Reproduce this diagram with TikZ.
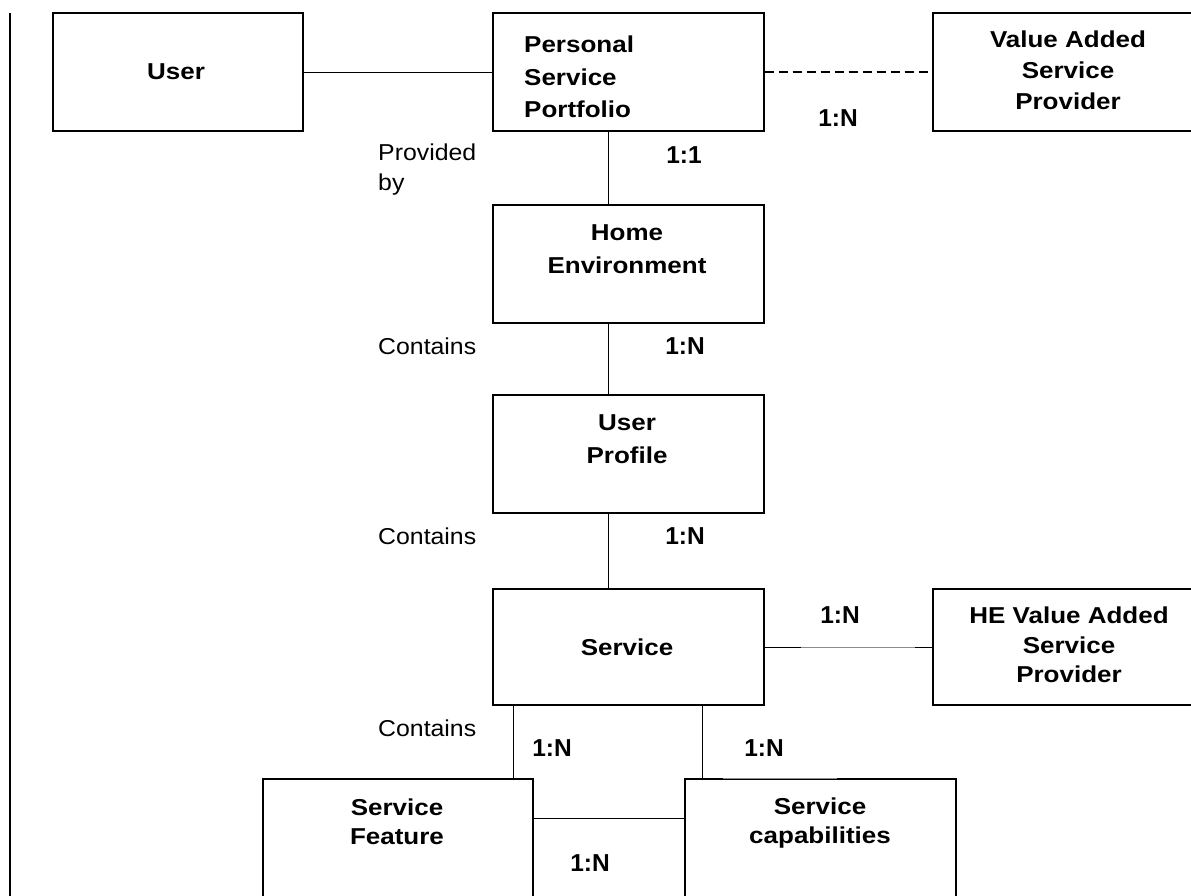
\documentclass[tikz,border=0pt]{standalone}
\usepackage{fontspec}
\setmainfont{Liberation Sans}
\newfontfamily\widesans[FakeStretch=1.13]{Liberation Sans}
\newfontfamily\notesans[FakeStretch=1.08]{Liberation Sans}
\begin{document}
\begin{tikzpicture}[x=1pt,y=-1pt,
  box/.style={draw, line width=1.4pt, rectangle, inner sep=0pt},
  title/.style={font=\widesans\fontsize{23}{31}\selectfont\bfseries, align=center, inner sep=0pt},
  note/.style={font=\notesans\fontsize{23}{30}\selectfont, align=left, inner sep=0pt},
  card/.style={font=\fontsize{24.5}{28}\selectfont\bfseries, inner sep=0pt},
  conn/.style={line width=1pt},
  faint/.style={line width=0.8pt, draw=black!45}]
\useasboundingbox (0,0) rectangle (1191,895);
\clip (0,0) rectangle (1191,895);
\fill[white] (0,0) rectangle (1191,895);

% margin rule on the left
\draw[line width=2pt] (10,13) -- (10,900);

% entity boxes
\node[box, minimum width=250pt, minimum height=118pt] (user)   at (178,72) {};
\node[box, minimum width=271pt, minimum height=118pt] (psp)    at (628.5,72) {};
\node[box, minimum width=267pt, minimum height=118pt] (vasp)   at (1066.5,72) {};
\node[box, minimum width=271pt, minimum height=118pt] (he)     at (628.5,264) {};
\node[box, minimum width=271pt, minimum height=118pt] (up)     at (628.5,454) {};
\node[box, minimum width=271pt, minimum height=116pt] (svc)    at (628.5,647) {};
\node[box, minimum width=267pt, minimum height=116pt] (hevasp) at (1066.5,647) {};
\node[box, minimum width=270pt, minimum height=141pt] (sf)     at (398,849.5) {};
\node[box, minimum width=271pt, minimum height=141pt] (sc)     at (820.5,849.5) {};

% box titles
\node[title] (tuser) at (176,72) {User};
\node[title, align=left, font=\widesans\fontsize{23}{32.5}\selectfont\bfseries, anchor=west] (tpsp) at (524,77) {Personal\\Service\\Portfolio};
\node[title] (tvasp) at (1068,70) {Value Added\\Service\\Provider};
\node[title, font=\widesans\fontsize{23}{33}\selectfont\bfseries] (the) at (627,249) {Home\\Environment};
\node[title, font=\widesans\fontsize{23}{33}\selectfont\bfseries] (tup) at (627,439) {User\\Profile};
\node[title] (tsvc) at (627,647) {Service};
\node[title, font=\widesans\fontsize{23}{29.5}\selectfont\bfseries] (thevasp) at (1069,645) {HE Value Added\\Service\\Provider};
\node[title, font=\widesans\fontsize{23}{29}\selectfont\bfseries] (tsf) at (397,822) {Service\\Feature};
\node[title, font=\widesans\fontsize{23}{29}\selectfont\bfseries] (tsc) at (820,823) {Service\\capabilities};

% connectors
\draw[conn] (user.east) -- (psp.west);
\draw[conn, dashed, dash pattern=on 9pt off 5pt, line width=1.4pt] (psp.east) -- (vasp.west);
\draw[conn] ([xshift=-20pt]psp.south) -- ([xshift=-20pt]he.north);
\draw[conn] ([xshift=-20pt]he.south) -- ([xshift=-20pt]up.north);
\draw[conn] ([xshift=-20pt]up.south) -- ([xshift=-20pt]svc.north);
\draw[faint] (svc.east) -- (hevasp.west);
\draw[conn] (svc.east) -- ++(36,0);
\draw[conn] (hevasp.west) -- ++(-17,0);
\draw[conn] ([xshift=-20pt]sf.north east) -- ([xshift=-20pt]sf.north east |- svc.south);
\draw[conn] ([xshift=18pt]sc.north west) -- ([xshift=18pt]sc.north west |- svc.south);
\draw[conn] ([yshift=-40pt]sf.north east) -- ([yshift=-40pt]sf.north east -| sc.west);
% lighter stretch along the top edge of the capabilities box
\draw[white, line width=1.6pt] ([xshift=39pt]sc.north west) -- ([xshift=153pt]sc.north west);
\draw[faint] ([xshift=39pt]sc.north west) -- ([xshift=153pt]sc.north west);

% relationship labels
\node[note, anchor=west] (lprov) at (378,170) {Provided\\by};
\node[note, anchor=west] (lcont1) at (378,346) {Contains};
\node[note, anchor=west] (lcont2) at (378,536) {Contains};
\node[note, anchor=west] (lcont3) at (378,728) {Contains};

% cardinalities
\node[card] (c1) at (838,118) {1:N};
\node[card] (c2) at (684,155) {1:1};
\node[card] (c3) at (685,346) {1:N};
\node[card] (c4) at (685,536) {1:N};
\node[card] (c5) at (840,615) {1:N};
\node[card] (c6) at (552,748) {1:N};
\node[card] (c7) at (764,748) {1:N};
\node[card] (c8) at (590,863) {1:N};
\end{tikzpicture}
\end{document}
